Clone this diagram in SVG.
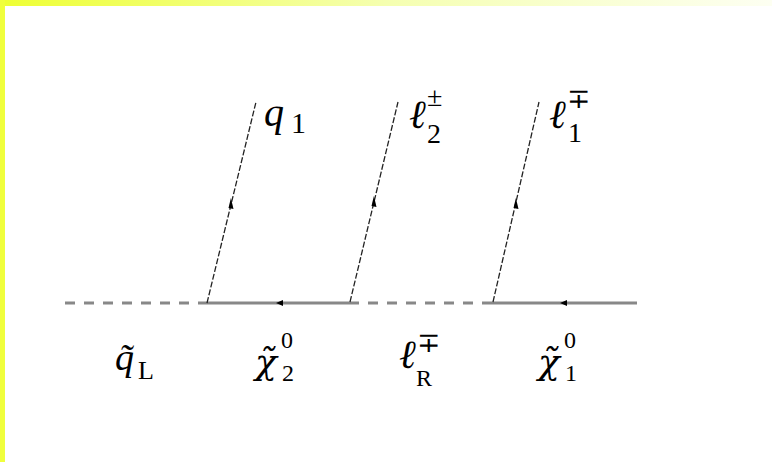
<svg xmlns="http://www.w3.org/2000/svg" width="772" height="462" viewBox="0 0 772 462">
<defs>
<linearGradient id="topband" x1="0" y1="0" x2="1" y2="0">
<stop offset="0" stop-color="#eeff33"/>
<stop offset="0.5" stop-color="#f5ffb0"/>
<stop offset="1" stop-color="#fdfff2"/>
</linearGradient>
</defs>
<style>
.scalar{stroke:#888;stroke-width:3;stroke-dasharray:10 9;fill:none}
.gaugino{stroke:#888;stroke-width:3;fill:none}
.fermion{stroke:#222;stroke-width:1.3;stroke-dasharray:6 2;fill:none}
.arrow{fill:#000}
text{font-family:"Liberation Serif","DejaVu Serif",serif;fill:#000}
.it{font-style:italic}
.dj{font-family:"DejaVu Serif","Liberation Serif",serif;font-style:italic}
</style>
<rect x="0" y="0" width="772" height="462" fill="#fff"/>
<rect x="0" y="0" width="772" height="6" fill="url(#topband)"/>
<rect x="0" y="0" width="5" height="462" fill="#f0ff3c"/>

<g id="connectors">
<line class="scalar" x1="65" y1="303" x2="207" y2="303"/>
<line class="gaugino" x1="207" y1="303" x2="349" y2="303"/>
<line class="scalar" x1="349" y1="303" x2="487" y2="303"/>
<line class="gaugino" x1="487" y1="303" x2="637" y2="303"/>
<line class="fermion" x1="207" y1="303" x2="256" y2="102"/>
<line class="fermion" x1="350" y1="302" x2="398" y2="102"/>
<line class="fermion" x1="493" y1="302" x2="539" y2="102"/>
<path class="arrow" d="M283,300 L276,303 L283,306 z"/>
<path class="arrow" d="M567,300 L560,303 L567,306 z"/>
<path class="arrow" d="M228.5,208 L230.9,198 L233.5,209 z"/>
<path class="arrow" d="M371.5,206 L373.9,196 L376.5,207 z"/>
<path class="arrow" d="M513.5,208 L515.9,198 L518.5,209 z"/>
</g>

<g id="q1">
<text class="it" x="264" y="126" font-size="40">q</text>
<text x="291" y="133" font-size="30">1</text>
</g>
<g id="l2">
<text class="it" x="409" y="128" font-size="40">ℓ</text>
<text x="427" y="106" font-size="28">±</text>
<text x="427" y="143" font-size="28">2</text>
</g>
<g id="l1">
<text class="it" x="549" y="128" font-size="40">ℓ</text>
<text x="567" y="108" font-size="28">∓</text>
<text x="568" y="142" font-size="28">1</text>
</g>
<g id="squark">
<text class="it" x="115" y="370" font-size="38">q̃</text>
<text x="138" y="379" font-size="26">L</text>
</g>
<g id="chi2">
<text class="dj" x="255" y="374" font-size="36">χ̃</text>
<text x="281" y="348" font-size="24">0</text>
<text x="282" y="381" font-size="24">2</text>
</g>
<g id="slepton">
<text class="it" x="399" y="368" font-size="40">ℓ</text>
<text x="417" y="352" font-size="28">∓</text>
<text x="416" y="386" font-size="24">R</text>
</g>
<g id="chi1">
<text class="dj" x="538" y="374" font-size="36">χ̃</text>
<text x="564" y="348" font-size="24">0</text>
<text x="565" y="381" font-size="24">1</text>
</g>
</svg>
